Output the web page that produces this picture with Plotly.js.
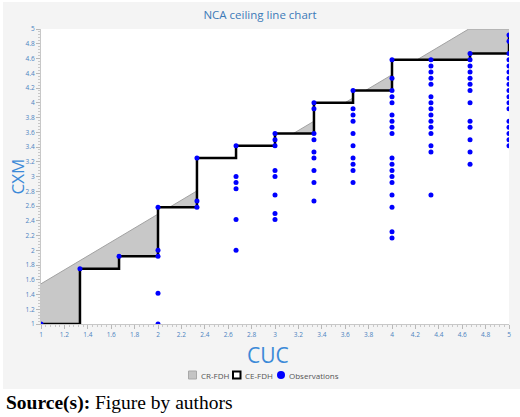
<!DOCTYPE html>
<html>
<head>
<meta charset="utf-8">
<script src="https://cdn.plot.ly/plotly-3.0.1.min.js"></script>
<style>
  html, body { margin: 0; padding: 0; background: #ffffff; }
  #chart { width: 520px; height: 417px; }
</style>
</head>
<body>
<div id="chart"></div>
<script>
// observations, one line per CUC level
var obsCUC = [
    1,
    1.333,
    1.667,
    2, 2, 2, 2, 2,
    2.333, 2.333, 2.333,
    2.667, 2.667, 2.667, 2.667, 2.667, 2.667,
    3, 3, 3, 3, 3, 3, 3, 3,
    3.333, 3.333, 3.333, 3.333, 3.333, 3.333, 3.333, 3.333, 3.333,
    3.667, 3.667, 3.667, 3.667, 3.667, 3.667, 3.667, 3.667, 3.667, 3.667,
    4, 4, 4, 4, 4, 4, 4, 4, 4, 4, 4, 4, 4, 4, 4, 4, 4, 4,
    4.333, 4.333, 4.333, 4.333, 4.333, 4.333, 4.333, 4.333, 4.333, 4.333, 4.333, 4.333, 4.333, 4.333, 4.333,
    4.667, 4.667, 4.667, 4.667, 4.667, 4.667, 4.667, 4.667, 4.667, 4.667, 4.667, 4.667, 4.667,
    5, 5, 5, 5, 5, 5, 5, 5, 5, 5, 5, 5, 5, 5, 5, 5, 5
];
var obsCXM = [
    1,
    1.75,
    1.917,
    2.583, 2, 1.917, 1.417, 1,
    3.25, 2.667, 2.583,
    3.417, 3, 2.917, 2.833, 2.417, 2,
    3.583, 3.5, 3.417, 3.083, 3, 2.75, 2.5, 2.417,
    4, 3.917, 3.583, 3.5, 3.333, 3.25, 3.083, 2.917, 2.667,
    4.167, 3.917, 3.833, 3.75, 3.583, 3.417, 3.25, 3.167, 3.083, 2.917,
    4.583, 4.333, 4.167, 4.083, 4, 3.833, 3.75, 3.667, 3.583, 3.25, 3.167, 3.083, 3, 2.917, 2.75, 2.583, 2.25, 2.167,
    4.583, 4.5, 4.417, 4.333, 4.25, 4.083, 4, 3.917, 3.833, 3.75, 3.667, 3.583, 3.417, 3.333, 2.75,
    4.667, 4.583, 4.5, 4.417, 4.333, 4.25, 4.167, 4, 3.75, 3.667, 3.5, 3.333, 3.167,
    4.917, 4.833, 4.667, 4.583, 4.5, 4.417, 4.333, 4.25, 4.167, 4.083, 4, 3.917, 3.75, 3.667, 3.583, 3.5, 3.417
];

// CE-FDH step ceiling
var ceilingCUC = [1, 1.333, 1.667, 2, 2.333, 2.667, 3, 3.333, 3.667, 4, 4.333, 4.667, 5];
var ceilingCXM = [1, 1.75, 1.917, 2.583, 3.25, 3.417, 3.583, 4, 4.167, 4.583, 4.583, 4.667, 4.917];

// CR-FDH straight ceiling, capped at the top of the scale
var crCUC = [1, 4.656, 5];
var crCXM = [1.545, 5, 5];

var legendNames = ['CR-FDH', 'CE-FDH', 'Observations'];

// page geometry
var W = 520, H = 417;
var mL = 41, mR = 11, mT = 29, mB = 93;
var pw = W - mL - mR, ph = H - mT - mB;
function fx(px) { return (px - mL) / pw; }
function fy(py) { return (H - mB - py) / ph; }

var crTrace = {
    x: crCUC,
    y: crCXM,
    mode: 'lines',
    fill: 'tozeroy',
    fillcolor: '#c8c8c8',
    line: {color: '#a2a2a2', width: 1},
    showlegend: false,
    hoverinfo: 'skip'
};

var ceTrace = {
    x: ceilingCUC,
    y: ceilingCXM,
    mode: 'lines',
    line: {color: '#000000', width: 2.5, shape: 'hv'},
    fill: 'tozeroy',
    fillcolor: '#ffffff',
    showlegend: false,
    hoverinfo: 'skip'
};

var obsTrace = {
    x: obsCUC,
    y: obsCXM,
    mode: 'markers',
    marker: {color: '#0000ff', size: 5},
    showlegend: false
};

var data = [crTrace, ceTrace, obsTrace];

var tickFont = {family: 'Open Sans', size: 6.5, color: '#4a82c0'};

var axisCommon = {
    range: [1, 5],
    autorange: false,
    tick0: 1,
    dtick: 0.2,
    ticks: 'outside',
    ticklen: 4,
    tickwidth: 1,
    tickcolor: '#b8b8b8',
    minor: {dtick: 0.04, ticks: 'outside', ticklen: 2, tickcolor: '#c8c8c8'},
    showline: true,
    linecolor: '#c8c8c8',
    linewidth: 1,
    showgrid: false,
    zeroline: false,
    tickfont: tickFont,
    fixedrange: true
};

var shapes = [
    // white strip under the chart panel and thin white borders
    {type: 'rect', xref: 'paper', yref: 'paper', layer: 'below',
     x0: fx(-5), x1: fx(W + 5), y0: fy(H + 5), y1: fy(389),
     fillcolor: '#ffffff', line: {width: 0}},
    {type: 'rect', xref: 'paper', yref: 'paper', layer: 'below',
     x0: fx(-5), x1: fx(3), y0: fy(H + 5), y1: fy(-5),
     fillcolor: '#ffffff', line: {width: 0}},
    {type: 'rect', xref: 'paper', yref: 'paper', layer: 'below',
     x0: fx(-5), x1: fx(W + 5), y0: fy(2), y1: fy(-5),
     fillcolor: '#ffffff', line: {width: 0}},
    // legend swatches
    {type: 'rect', xref: 'paper', yref: 'paper',
     x0: fx(188.5), x1: fx(196.5), y0: fy(379), y1: fy(371),
     fillcolor: '#c4c4c4', line: {color: '#a8a8a8', width: 1}},
    {type: 'rect', xref: 'paper', yref: 'paper',
     x0: fx(233), x1: fx(240.5), y0: fy(378.5), y1: fy(371.5),
     fillcolor: '#ffffff', line: {color: '#000000', width: 2}},
    {type: 'circle', xref: 'paper', yref: 'paper',
     x0: fx(277), x1: fx(285), y0: fy(379), y1: fy(371),
     fillcolor: '#0000ff', line: {width: 0}}
];

var legendX = [199, 243, 287];
var annotations = [];
for (var i = 0; i < legendNames.length; i++) {
    annotations.push({
        xref: 'paper', yref: 'paper',
        x: fx(legendX[i]), y: fy(375),
        xanchor: 'left', yanchor: 'middle',
        text: legendNames[i],
        showarrow: false,
        font: {family: 'Open Sans', size: 8, color: '#555555'}
    });
}
annotations.push({
    xref: 'paper', yref: 'paper',
    x: fx(267.5), y: fy(355),
    xanchor: 'center', yanchor: 'middle',
    text: 'CUC',
    showarrow: false,
    font: {family: 'Open Sans', size: 21, color: '#3c8ad8'}
});
annotations.push({
    xref: 'paper', yref: 'paper',
    x: fx(16.5), y: fy(177),
    xanchor: 'center', yanchor: 'middle',
    text: 'CXM',
    textangle: -90,
    showarrow: false,
    font: {family: 'Open Sans', size: 17, color: '#3c8ad8'}
});
annotations.push({
    xref: 'paper', yref: 'paper',
    x: fx(4), y: fy(403),
    xanchor: 'left', yanchor: 'middle',
    text: '<b>Source(s):</b> Figure by authors',
    showarrow: false,
    font: {family: 'Liberation Serif', size: 19.5, color: '#000000'}
});

var layout = {
    width: W,
    height: H,
    margin: {l: mL, r: mR, t: mT, b: mB, pad: 0},
    paper_bgcolor: '#f4f4f4',
    plot_bgcolor: '#ffffff',
    title: {
        text: 'NCA ceiling line chart',
        xref: 'container', x: 0.5, xanchor: 'center',
        yref: 'container', y: 1 - 15 / H, yanchor: 'middle',
        font: {family: 'Open Sans', size: 11.5, color: '#3c7ab8'}
    },
    xaxis: axisCommon,
    yaxis: Object.assign({}, axisCommon),
    shapes: shapes,
    annotations: annotations,
    showlegend: false
};

Plotly.newPlot('chart', data, layout, {displayModeBar: false, staticPlot: true});
</script>
</body>
</html>
